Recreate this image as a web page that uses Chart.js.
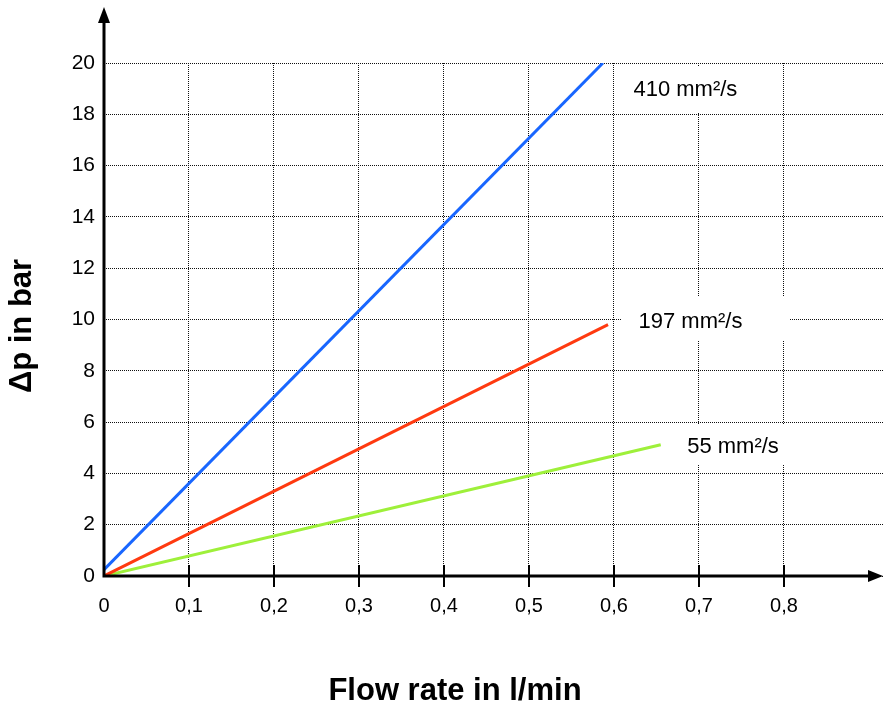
<!DOCTYPE html>
<html>
<head>
<meta charset="utf-8">
<script src="https://cdn.jsdelivr.net/npm/chart.js@4"></script>
<style>
  html, body { margin: 0; padding: 0; background: #fff; }
  #wrap { width: 883px; height: 711px; }
</style>
</head>
<body>
<div id="wrap"><canvas id="dpChart"></canvas></div>
<script>
// values
const xTicks = [0, 0.1, 0.2, 0.3, 0.4, 0.5, 0.6, 0.7, 0.8];
const xTickLabels = ['0', '0,1', '0,2', '0,3', '0,4', '0,5', '0,6', '0,7', '0,8'];
const yTicks = [0, 2, 4, 6, 8, 10, 12, 14, 16, 18, 20];

const flow410 = [0, 0.587];
const dp410 = [0.25, 20];
const flow197 = [0, 0.593];
const dp197 = [0, 9.8];
const flow55 = [0, 0.655];
const dp55 = [0, 5.12];

const seriesLabels = ['410 mm²/s', '197 mm²/s', '55 mm²/s'];
const xTitle = 'Flow rate in l/min';
const yTitle = 'Δp in bar';

const FONT = '"Liberation Sans", Arial, sans-serif';

function pts(xs, ys) {
    return xs.map((x, i) => ({ x: x, y: ys[i] }));
}

// label boxes (white background hides the grid like in the original)
const labelBoxes = [
    { text: seriesLabels[0], x: 0.684, y: 18.95, mask: [622, 67, 150, 46] },
    { text: seriesLabels[1], x: 0.690, y: 9.9, mask: [622, 297, 168, 44] },
    { text: seriesLabels[2], x: 0.740, y: 5.05, mask: [672, 424, 130, 41] }
];

const decorPlugin = {
    id: 'decor',
    beforeDatasetsDraw(chart) {
        const ctx = chart.ctx;
        ctx.save();
        ctx.fillStyle = '#fff';
        labelBoxes.forEach(b => ctx.fillRect(b.mask[0], b.mask[1], b.mask[2], b.mask[3]));
        ctx.restore();
    },
    afterDraw(chart) {
        const ctx = chart.ctx;
        const xs = chart.scales.x, ys = chart.scales.y;
        const x0 = xs.getPixelForValue(0), y0 = ys.getPixelForValue(0);
        ctx.save();
        ctx.strokeStyle = '#000';
        ctx.fillStyle = '#000';

        // axes
        ctx.lineWidth = 3;
        ctx.beginPath();
        ctx.moveTo(x0, y0 + 1.5);
        ctx.lineTo(x0, 20);
        ctx.moveTo(x0 - 1.5, y0);
        ctx.lineTo(872, y0);
        ctx.stroke();
        // arrows
        ctx.beginPath();
        ctx.moveTo(x0, 7);
        ctx.lineTo(x0 - 6, 23);
        ctx.lineTo(x0 + 6, 23);
        ctx.closePath();
        ctx.fill();
        ctx.beginPath();
        ctx.moveTo(883, y0);
        ctx.lineTo(868, y0 - 6);
        ctx.lineTo(868, y0 + 6);
        ctx.closePath();
        ctx.fill();

        // tick marks crossing the x axis
        ctx.lineWidth = 2;
        xTicks.forEach(v => {
            if (v === 0) return;
            const px = Math.round(xs.getPixelForValue(v));
            ctx.beginPath();
            ctx.moveTo(px, y0 - 11);
            ctx.lineTo(px, y0 + 11);
            ctx.stroke();
        });

        // series labels
        ctx.font = '22px ' + FONT;
        ctx.textAlign = 'center';
        ctx.textBaseline = 'middle';
        labelBoxes.forEach(b => {
            ctx.fillText(b.text, xs.getPixelForValue(b.x), ys.getPixelForValue(b.y));
        });

        // axis titles
        ctx.font = 'bold 31px ' + FONT;
        ctx.fillText(xTitle, 455, 691);
        ctx.translate(22, 326);
        ctx.rotate(-Math.PI / 2);
        ctx.fillText(yTitle, 0, 0);
        ctx.restore();
    }
};

new Chart(document.getElementById('dpChart'), {
    type: 'line',
    data: {
        datasets: [
            { label: seriesLabels[0], data: pts(flow410, dp410), borderColor: '#1866ff', borderWidth: 3 },
            { label: seriesLabels[1], data: pts(flow197, dp197), borderColor: '#ff3a10', borderWidth: 3 },
            { label: seriesLabels[2], data: pts(flow55, dp55), borderColor: '#9ef03a', borderWidth: 3 }
        ]
    },
    options: {
        responsive: true,
        maintainAspectRatio: false,
        animation: false,
        events: [],
        layout: { padding: { top: 63, right: 0, left: 0, bottom: 0 } },
        elements: { point: { radius: 0 }, line: { tension: 0 } },
        plugins: { legend: { display: false }, tooltip: { enabled: false } },
        scales: {
            x: {
                type: 'linear',
                min: 0,
                max: 0.9165,
                afterFit(scale) { scale.height = 135; },
                afterBuildTicks(scale) { scale.ticks = xTicks.map(v => ({ value: v })); },
                border: { display: false, dash: [1, 1] },
                grid: { color: '#111', lineWidth: 1, drawTicks: false },
                ticks: {
                    padding: 18,
                    color: '#000',
                    font: { family: FONT, size: 20 },
                    maxRotation: 0,
                    autoSkip: false,
                    callback: (v, i) => xTickLabels[i]
                }
            },
            y: {
                min: 0,
                max: 20,
                afterFit(scale) { scale.width = 104; },
                afterBuildTicks(scale) { scale.ticks = yTicks.map(v => ({ value: v })); },
                border: { display: false, dash: [1, 1] },
                grid: { color: '#111', lineWidth: 1, drawTicks: false },
                ticks: {
                    padding: 9,
                    color: '#000',
                    font: { family: FONT, size: 21 },
                    autoSkip: false,
                    callback: v => String(v)
                }
            }
        }
    },
    plugins: [decorPlugin]
});
</script>
</body>
</html>
